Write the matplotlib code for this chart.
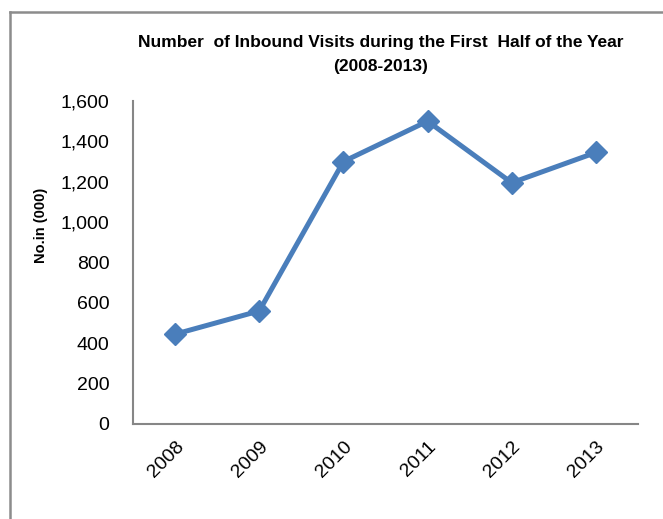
import matplotlib
matplotlib.use('Agg')
import matplotlib.pyplot as plt
import matplotlib.ticker as ticker
from matplotlib.lines import Line2D

# Data
years = ['2008', '2009', '2010', '2011', '2012', '2013']
visits = [445, 560, 1300, 1500, 1195, 1345]
yticks = [0, 200, 400, 600, 800, 1000, 1200, 1400, 1600]

title_text = 'Number  of Inbound Visits during the First  Half of the Year\n(2008-2013)'
ylabel_text = 'No.in (000)'

line_color = '#4A7EBB'
axis_color = '#868686'

fig = plt.figure(figsize=(6.63, 5.19), dpi=100)
ax = fig.add_axes([133 / 663, 1 - 424 / 519, 505 / 663, 323 / 519])

x = range(len(years))
ax.plot(x, visits, color=line_color, linewidth=3.6, marker='D', markersize=11,
        markerfacecolor=line_color, markeredgecolor=line_color)

ax.set_xlim(-0.5, len(years) - 0.5)
ax.set_ylim(0, 1600)
ax.set_yticks(yticks)
ax.yaxis.set_major_formatter(ticker.FuncFormatter(lambda v, p: f'{int(v):,}'))
ax.set_xticks(list(x))
ax.set_xticklabels(years, rotation=45, ha='right', rotation_mode='anchor')

for lab in ax.get_xticklabels() + ax.get_yticklabels():
    lab.set_fontfamily('Liberation Sans')
    lab.set_fontsize(14)

ax.tick_params(axis='both', length=0)
ax.tick_params(axis='y', pad=17)
ax.tick_params(axis='x', pad=10)

for s in ['top', 'right']:
    ax.spines[s].set_visible(False)
for s in ['left', 'bottom']:
    ax.spines[s].set_color(axis_color)
    ax.spines[s].set_linewidth(1.5)

# title and y label
fig.text(381 / 663, 1 - 55 / 519, title_text, ha='center', va='center',
         fontsize=12.5, fontweight='bold', family=['Liberation Sans Narrow', 'Liberation Sans'],
         linespacing=1.75)
fig.text(41 / 663, 1 - 225 / 519, ylabel_text, rotation=90, ha='center', va='center',
         fontsize=10.5, fontweight='bold', family='Liberation Sans')

# chart area border (cropped on right and bottom)
bx = 10 / 663
by = 1 - 12 / 519
fig.add_artist(Line2D([bx, bx], [0, by], transform=fig.transFigure, color='#8c8c8c', linewidth=1.8))
fig.add_artist(Line2D([bx, 1], [by, by], transform=fig.transFigure, color='#8c8c8c', linewidth=1.8))

fig.savefig('out.png', dpi=100)
